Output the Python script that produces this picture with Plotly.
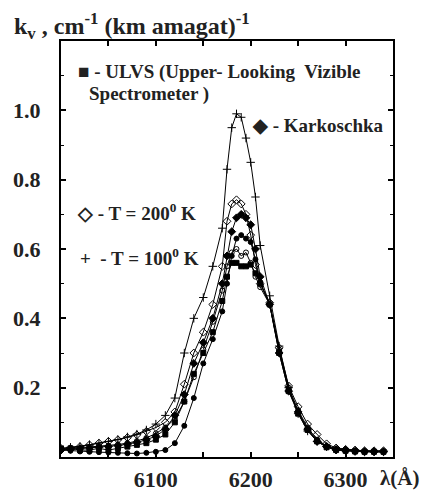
import plotly.graph_objects as go

wavelength = [6000, 6010, 6020, 6030, 6040, 6050, 6060, 6070, 6080, 6090,
              6100, 6110, 6120, 6130, 6140, 6150, 6160, 6170, 6175, 6180,
              6185, 6190, 6195, 6200, 6205, 6210, 6220, 6230, 6240, 6250,
              6260, 6270, 6280, 6290, 6300, 6310, 6320, 6330, 6340]

t100 = [0.025, 0.028, 0.030, 0.035, 0.040, 0.045, 0.050, 0.058, 0.066, 0.078,
        0.095, 0.120, 0.170, 0.300, 0.400, 0.460, 0.550, 0.660, 0.830, 0.950,
        0.990, 0.980, 0.920, 0.850, 0.750, 0.610, 0.465, 0.320, 0.200, 0.125,
        0.075, 0.045, 0.030, 0.022, 0.020, 0.018, 0.016, 0.015, 0.015]

t200 = [0.020, 0.025, 0.030, 0.035, 0.040, 0.045, 0.050, 0.056, 0.064, 0.074,
        0.085, 0.100, 0.130, 0.210, 0.300, 0.360, 0.440, 0.550, 0.680, 0.730,
        0.742, 0.730, 0.700, 0.640, 0.555, 0.500, 0.445, 0.315, 0.205, 0.145,
        0.095, 0.065, 0.038, 0.026, 0.022, 0.020, 0.018, 0.018, 0.018]

karkoschka = [0.020, 0.022, 0.024, 0.026, 0.028, 0.030, 0.033, 0.037, 0.042, 0.050,
              0.060, 0.080, 0.120, 0.180, 0.270, 0.330, 0.400, 0.500, 0.580, 0.650,
              0.690, 0.700, 0.690, 0.670, 0.600, 0.520, 0.440, 0.300, 0.190, 0.130,
              0.080, 0.045, 0.030, 0.020, 0.018, 0.016, 0.015, 0.015, 0.015]

lab_a = [0.020, 0.018, 0.016, 0.015, 0.014, 0.013, 0.012, 0.011, 0.010, 0.012,
         0.015, 0.020, 0.040, 0.090, 0.170, 0.270, 0.340, 0.420, 0.500, 0.580,
         0.630, 0.640, 0.630, 0.620, 0.570, 0.505, 0.440, 0.305, 0.195, 0.130,
         0.080, 0.048, 0.030, 0.022, 0.020, 0.018, 0.016, 0.016, 0.016]

lab_b = [0.022, 0.024, 0.026, 0.028, 0.030, 0.033, 0.036, 0.040, 0.046, 0.055,
         0.068, 0.085, 0.110, 0.160, 0.230, 0.310, 0.390, 0.480, 0.550, 0.590,
         0.600, 0.580, 0.590, 0.560, 0.520, 0.490, 0.440, 0.310, 0.200, 0.135,
         0.085, 0.050, 0.032, 0.024, 0.020, 0.018, 0.017, 0.016, 0.016]

ulvs = [0.025, 0.025, 0.020, 0.020, 0.025, 0.020, 0.025, 0.030, 0.035, 0.040,
        0.050, 0.065, 0.100, 0.160, 0.240, 0.300, 0.360, 0.450, 0.520, 0.560,
        0.560, 0.550, 0.550, 0.555, 0.530, 0.500, 0.440, 0.300, 0.190, 0.125,
        0.078, 0.045, 0.028, 0.020, 0.018, 0.016, 0.015, 0.015, 0.015]

x_tick_labels = ["6100", "6200", "6300"]
y_tick_labels = ["0.2", "0.4", "0.6", "0.8", "1.0"]

series = [
    (t100, "cross-thin-open", 6),
    (t200, "diamond-open", 6),
    (karkoschka, "diamond", 6),
    (lab_a, "circle", 5),
    (lab_b, "circle-open", 5),
    (ulvs, "square", 5),
]

fig = go.Figure()
for vals, sym, sz in series:
    fig.add_trace(go.Scatter(
        x=wavelength, y=vals, mode="lines+markers",
        line=dict(color="black", width=1),
        marker=dict(symbol=sym, size=sz, color="black",
                    line=dict(color="black", width=1)),
        showlegend=False))

font = "Liberation Serif"
axis_common = dict(showgrid=False, zeroline=False, showline=True, linecolor="black",
                   linewidth=2, mirror="ticks", ticks="inside", ticklen=5,
                   tickwidth=2, tickcolor="black", automargin=False,
                   tickfont=dict(family=font, size=22, color="#222"))

fig.update_xaxes(range=[6000, 6350], tickvals=[float(v) for v in x_tick_labels],
                 ticktext=[f"<b>{t}</b>" for t in x_tick_labels],
                 minor=dict(tickvals=[6050, 6150, 6250], ticks="inside", ticklen=5,
                            tickwidth=2, tickcolor="black"),
                 ticklabelstandoff=2, **axis_common)
fig.update_yaxes(range=[0, 1.2], tickvals=[float(v) for v in y_tick_labels],
                 ticktext=[f"<b>{t}</b>" for t in y_tick_labels],
                 minor=dict(tickvals=[0.1, 0.3, 0.5, 0.7, 0.9, 1.1], ticks="inside",
                            ticklen=3, tickwidth=1, tickcolor="black"),
                 ticklabelstandoff=14, **axis_common)

anns = [
    ("<b>k<sub>v</sub> , cm<sup>-1</sup> (km amagat)<sup>-1</sup></b>", -0.148, 1.036, 24),
    ("<b>■ - ULVS (Upper- Looking  Vizible</b>", 0.045, 0.925, 19),
    ("<b>Spectrometer )</b>", 0.078, 0.872, 19),
    ("<b>◆ - Karkoschka</b>", 0.569, 0.798, 19),
    ("<b>◇ - T = 200<sup>0</sup> K</b>", 0.042, 0.589, 19),
    ("<b>+  - T = 100<sup>0</sup> K</b>", 0.051, 0.481, 19),
    ("<b>λ(Å)</b>", 0.955, -0.05, 21),
]
for text, x, y, sz in anns:
    fig.add_annotation(text=text, x=x, y=y, xref="paper", yref="paper",
                       xanchor="left", yanchor="middle", showarrow=False,
                       font=dict(family=font, size=sz, color="#222"))

# page body adds an ~8px offset; margins compensate so the frame lands where the reference has it
fig.update_layout(width=436, height=491, margin=dict(l=53, r=51, t=33, b=42),
                  paper_bgcolor="white", plot_bgcolor="white")

fig.write_html("out.html")
